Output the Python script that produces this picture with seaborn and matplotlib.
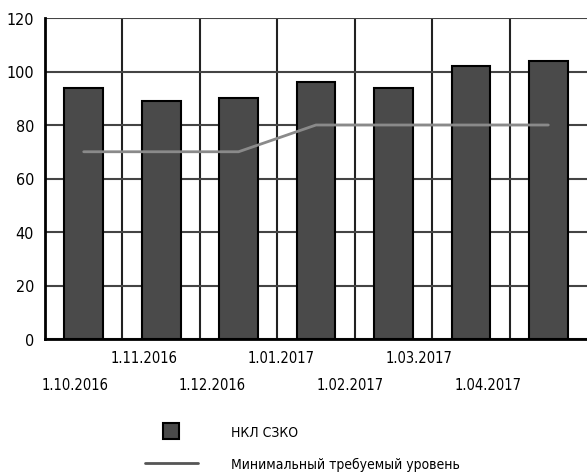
import numpy as np
import pandas as pd
import matplotlib
matplotlib.use("Agg")
import matplotlib.pyplot as plt
from matplotlib.lines import Line2D
import seaborn as sns

# Data
dates = ["1.10.2016", "1.11.2016", "1.12.2016", "1.01.2017",
         "1.02.2017", "1.03.2017", "1.04.2017"]
nkl_values = [94, 89, 90, 96, 94, 102, 104]
min_required = [70, 70, 70, 80, 80, 80, 80]
y_ticks = [0, 20, 40, 60, 80, 100, 120]
bar_label = "НКЛ СЗКО"
line_label = "Минимальный требуемый уровень"

sns.set_style("white")
plt.rcParams["font.family"] = ["DejaVu Sans"]
plt.rcParams["font.stretch"] = "condensed"
plt.rcParams["text.color"] = "black"
plt.rcParams["xtick.color"] = "black"
plt.rcParams["ytick.color"] = "black"

df = pd.DataFrame({"date": dates, "nkl": nkl_values,
                   "pos": np.arange(len(dates)), "req": min_required})

fig = plt.figure(figsize=(5.87, 4.77), dpi=100)
ax = fig.add_axes([45 / 587, (477 - 340) / 477, 1 - 45 / 587, (340 - 19) / 477])

sns.barplot(data=df, x="date", y="nkl", color="#4a4a4a", saturation=1,
            width=0.5, edgecolor="black", linewidth=1.5, ax=ax, zorder=2)
sns.lineplot(data=df, x="pos", y="req", color="#8a8a8a", linewidth=2,
             ax=ax, zorder=3)

ax.set_xlim(-0.5, len(dates) - 0.5)
ax.set_ylim(0, 120)
ax.set_yticks(y_ticks)
ax.set_yticklabels([str(v) for v in y_ticks], fontsize=11.5)

# category boundaries as vertical grid lines
ax.set_xticks(np.arange(len(dates) - 1) + 0.5, minor=True)
ax.grid(True, which="minor", axis="x", color="#222222", linewidth=1.5, zorder=0)
ax.grid(True, which="major", axis="y", color="#444444", linewidth=1.5, zorder=0)
ax.set_axisbelow(True)

# staggered date labels
label_pos = -0.116 + 0.89 * np.arange(len(dates))
ax.set_xticks(label_pos)
ax.set_xticklabels(dates, fontsize=10.5)
ax.tick_params(axis="x", which="both", length=0)
for i, tick in enumerate(ax.xaxis.get_major_ticks()):
    tick.set_pad(27.5 if i % 2 == 0 else 8)
ax.tick_params(axis="y", length=0, pad=8)
ax.set_xlabel("")
ax.set_ylabel("")

for side in ["top", "right"]:
    ax.spines[side].set_visible(False)
for side in ["left", "bottom"]:
    ax.spines[side].set_color("black")
    ax.spines[side].set_linewidth(2)

handles = [
    Line2D([], [], marker="s", linestyle="none", markersize=11,
           markerfacecolor="#4a4a4a", markeredgecolor="black", markeredgewidth=1.5),
    Line2D([], [], color="#555555", linewidth=2),
]
fig.legend(handles, [bar_label, line_label], loc="center left",
           bbox_to_anchor=(145 / 587, 1 - 449 / 477), frameon=False,
           fontsize=10, handlelength=3.8, handletextpad=2.4,
           labelspacing=1.3, borderpad=0, borderaxespad=0)

fig.savefig("out.png", dpi=100)
